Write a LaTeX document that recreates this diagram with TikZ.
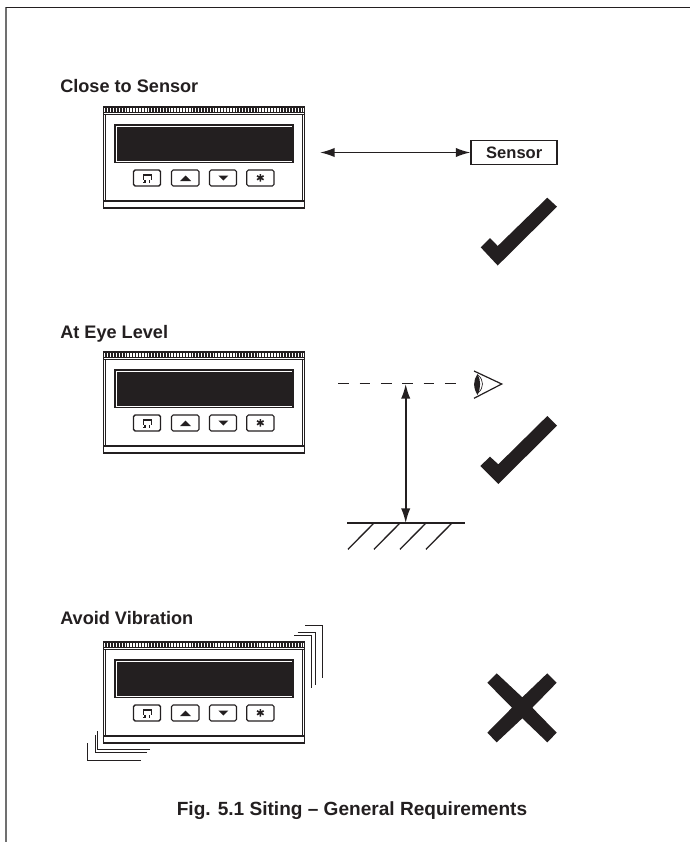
\documentclass[tikz,border=0pt]{standalone}
\usepackage{fontspec}
\setmainfont{Liberation Sans}
\usetikzlibrary{arrows.meta}
\definecolor{ink}{HTML}{231F20}
\definecolor{framegrey}{HTML}{707070}
\tikzset{
  ink line/.style={draw=ink,line width=0.9pt},
  thin line/.style={draw=ink,line width=0.75pt},
  mark shape/.style={fill=ink,draw=none},
  heading/.style={font=\bfseries\fontsize{13.6pt}{15pt}\selectfont,text=ink,anchor=base west,inner sep=0pt},
  twoway/.style={draw=ink,line width=1.2pt,{Latex[length=11pt,width=7pt]}-{Latex[length=11pt,width=7pt]}},
  keybox/.style={draw=ink,line width=0.85pt,rounded corners=1.2pt},
  pics/device/.style={code={
    \draw[ink line,line width=1.3pt] (103.5,0) rectangle (304.5,101);
    \fill[ink] (103,0) rectangle (305,6);
    \draw[white,line width=2.4pt,dash pattern=on 1.1pt off 1.1pt] (104,3) -- (304,3);
    \draw[ink line,line width=1.1pt] (103,7.5) -- (305,7.5);
    \draw[ink line,line width=1.2pt] (103,94) -- (305,94);
    \draw[ink line] (105.5,7.5) -- (105.5,94);
    \draw[ink line] (302.5,7.5) -- (302.5,94);
    \draw[ink line,line width=0.8pt] (115,18) rectangle (293,55.5);
    \fill[ink] (116.5,19.5) rectangle (291.5,54);
    \draw[keybox,line width=1pt] (133.5,63) rectangle (160.5,79);
    \draw[keybox] (171.5,63) rectangle (199,79);
    \draw[keybox] (209.5,63) rectangle (236.5,79);
    \draw[keybox] (246.7,63) rectangle (274,79);
    \fill[ink] (142.5,66.5) rectangle (152,73);
    \fill[white] (144,69) rectangle (150.5,73);
    \draw[ink,line width=1.1pt] (145,73) -- (145,76) (149.5,73) -- (149.5,76) (143,75.5) -- (146,75.5);
    \fill[ink] (185.5,68.5) -- (191,74) -- (180,74) -- cycle;
    \fill[ink] (223.3,73.5) -- (228.3,68.5) -- (218.3,68.5) -- cycle;
    \draw[ink,line width=1.2pt] (260.3,67) -- (260.3,74.5) (257,68.8) -- (263.6,72.7) (257,72.7) -- (263.6,68.8);
  }}
}
\begin{document}
\begin{tikzpicture}[x=0.75pt,y=-0.75pt]
\useasboundingbox (0,0) rectangle (690,842);
\coordinate (frameBL) at (6,842);
\coordinate (frameTL) at (6,7.3);
\coordinate (frameTR) at (690,7.3);
\draw[draw=framegrey,line width=1.1pt] (frameBL) -- (frameTL);
\draw[draw=ink,line width=1pt] (frameTL) -- (frameTR);

\node[heading] (h1) at (60,92.5) {Close to Sensor};
\node[heading] (h2) at (60,338.5) {At Eye Level};
\node[heading] (h3) at (60,624) {Avoid Vibration};

\pic at (0,107) {device};
\pic at (0,352) {device};
\pic at (0,642) {device};

% sensor
\node[draw=ink,line width=1.1pt,font=\bfseries\fontsize{12.4pt}{14pt}\selectfont,text=ink,minimum width=64.5pt,minimum height=18.2pt,inner sep=0pt] (sensor) at (514.2,152.5) {Sensor};
\coordinate (sl) at (320,152.5);
\draw[twoway] (sl) -- (sensor.west);

% checks
\fill[mark shape] (480.7,247.3) -- (490,238) -- (497.7,246) -- (547.3,197.7) -- (557,206.7) -- (497.7,265.5) -- cycle;
\fill[mark shape] (480.3,466) -- (490,456.7) -- (498.3,464.3) -- (547.3,416) -- (557,425.7) -- (498.3,484) -- cycle;

% eye level
\coordinate (d1) at (338.3,383.5);
\coordinate (d2) at (456,383.5);
\coordinate (top) at (405.7,384);
\coordinate (bot) at (405.7,523);
\draw[draw=ink,line width=1.3pt,dash pattern=on 7.9pt off 8.1pt] (d1) -- (d2);
\draw[twoway] (top) -- (bot);
\draw[draw=ink,line width=1.2pt] (347.3,523) -- (465,523);
\foreach \x in {374,400,426,452}
  \draw[draw=ink,line width=1pt] (\x,523) -- (\x-26,549.3);

% eye
\coordinate (eyeTip) at (501.7,384);
\draw[ink line] (474,371) -- (eyeTip) -- (474,398.3);
\fill[ink] (477.5,374) .. controls (473,380) and (473,388) .. (477.5,395) .. controls (481,388) and (481,380) .. (477.5,374) -- cycle;
\draw[ink,line width=0.5pt] (478,375) .. controls (484,380) and (484,388) .. (478,393);

% vibration lines
\draw[thin line] (305,625.7) -- (322.7,625.7) -- (322.7,678.3);
\draw[thin line] (297.7,632.7) -- (315.7,632.7) -- (315.7,685);
\draw[thin line] (294,635) -- (311.7,635) -- (311.7,688);
\draw[thin line] (150,749) -- (97.3,749) -- (97.3,730.7);
\draw[thin line] (146.7,752.7) -- (95,752.7) -- (95,735);
\draw[thin line] (140.7,760.3) -- (87.7,760.3) -- (87.7,742.7);

% cross
\fill[mark shape] (487.3,682.7) -- (496.7,673.3) -- (522.3,697.3) -- (547.3,673.3) -- (556.7,682.7) -- (532.3,707.7) -- (556.7,732.7) -- (547.3,742.3) -- (522.3,718.3) -- (496.7,742.3) -- (487.3,732.7) -- (512,707.7) -- cycle;

\node[text=ink,inner sep=0pt,font=\bfseries\fontsize{14.3pt}{16pt}\selectfont] (cap) at (352,811) {Fig. 5.1 Siting – General Requirements};
\end{tikzpicture}
\end{document}
